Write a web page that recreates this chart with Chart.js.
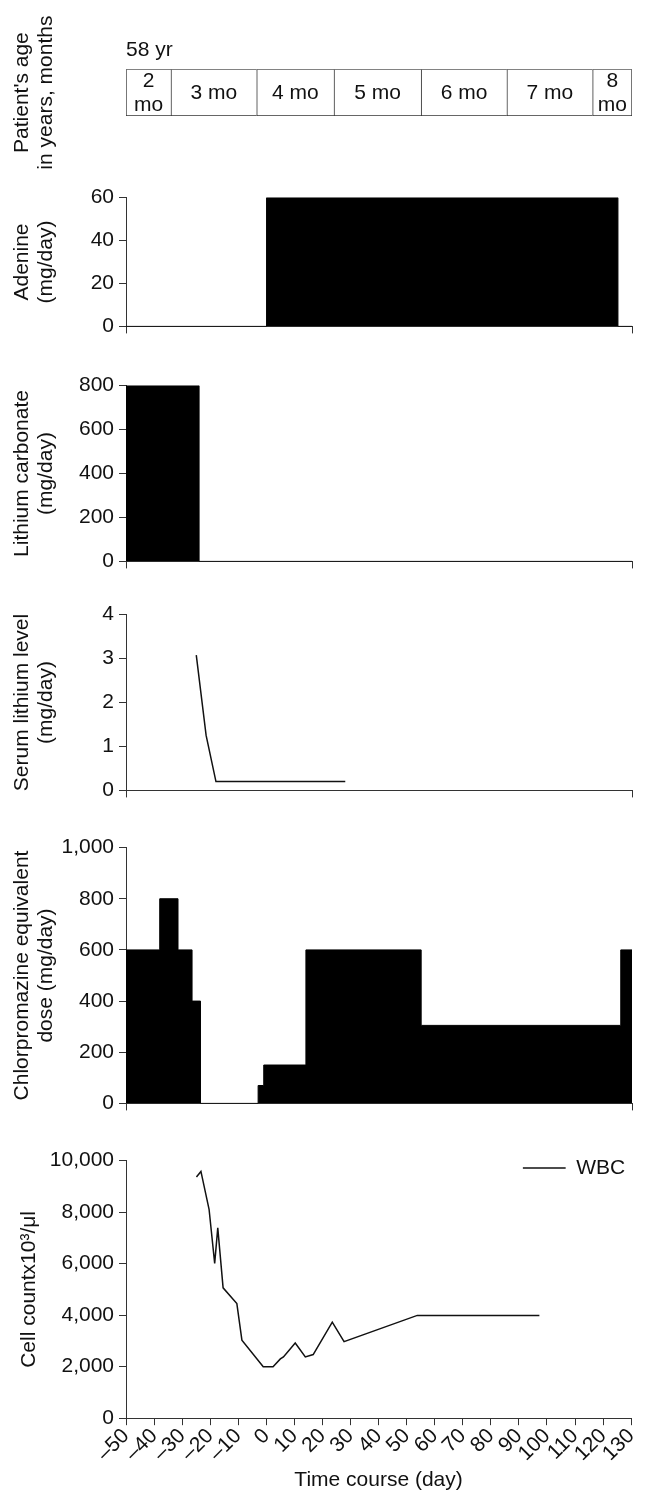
<!DOCTYPE html>
<html>
<head>
<meta charset="utf-8">
<title>Time course</title>
<script src="https://cdn.jsdelivr.net/npm/chart.js@4.4.0/dist/chart.umd.min.js"></script>
<style>
  body { margin: 0; background: #fff; }
  #page { position: relative; width: 646px; height: 1506px; overflow: hidden; }
  canvas { position: absolute; left: 0; }
</style>
</head>
<body>
<div id="page">
  <canvas id="ageChart"></canvas>
  <canvas id="adenineChart"></canvas>
  <canvas id="lithiumChart"></canvas>
  <canvas id="serumChart"></canvas>
  <canvas id="cpzChart"></canvas>
  <canvas id="wbcChart"></canvas>
</div>
<script>
// patient's age, month cells along the day axis
const ageLabels = ["2\nmo", "3 mo", "4 mo", "5 mo", "6 mo", "7 mo", "8\nmo"];
const ageStart = [-50, -34, -3.5, 24, 55, 85.5, 116];
const ageEnd = [-34, -3.5, 24, 55, 85.5, 116, 130];

// doses, held from each day until the next one
const adenineDays = [-50, 0, 125, 130];
const adenineDose = [0, 60, 0, 0];

const lithiumDays = [-50, -24, 130];
const lithiumDose = [800, 0, 0];

const serumDays = [-25, -21.5, -18, 28];
const serumLevel = [3.08, 1.25, 0.2, 0.2];

const cpzDays = [-50, -38, -31.5, -26.5, -23.5, -3, -1, 14, 55, 126, 130];
const cpzDose = [600, 800, 600, 400, 0, 70, 150, 600, 305, 600, 600];

const wbcDays = [-24.9, -23.3, -20.4, -18.4, -17.3, -15.4, -10.5, -8.7, -1.1, 2.4, 5, 6.1, 10.3, 13.9, 16.7, 23.5, 27.7, 53.8, 97.3];
const wbcCount = [9360, 9580, 8110, 6010, 7390, 5060, 4450, 3030, 2000, 2000, 2300, 2380, 2920, 2380, 2470, 3730, 2970, 3990, 3990];

const dayTicks = [-50, -40, -30, -20, -10, 0, 10, 20, 30, 40, 50, 60, 70, 80, 90, 100, 110, 120, 130];

Chart.defaults.font.family = '"Liberation Sans", Arial, Helvetica, sans-serif';
Chart.defaults.font.size = 21;
Chart.defaults.color = '#111';
Chart.defaults.animation = false;
Chart.defaults.responsive = false;
Chart.defaults.devicePixelRatio = 1;
Chart.defaults.plugins.legend.display = false;
Chart.defaults.plugins.tooltip.enabled = false;

const AXIS = '#333';
const LEFT = 126;

function place(id, top, height) {
  const c = document.getElementById(id);
  c.width = 646;
  c.height = height;
  c.style.top = top + 'px';
  return c.getContext('2d');
}

function points(xs, ys) {
  return xs.map((x, i) => ({ x: x, y: ys[i] }));
}

function yAxis(max, step, title, titlePad) {
  return {
    min: 0,
    max: max,
    ticks: { stepSize: step, padding: 5, callback: v => v.toLocaleString('en-US') },
    grid: { drawOnChartArea: false, tickLength: 7, color: AXIS },
    border: { color: AXIS },
    title: { display: true, text: title, font: { size: 21, lineHeight: 1.15 }, padding: { top: titlePad, bottom: 0 } },
    afterFit: s => { s.width = LEFT; }
  };
}

// upper panels: day axis with only its two end ticks
function endTickX() {
  return {
    type: 'linear',
    min: -50,
    max: 130,
    ticks: { display: false },
    grid: { drawOnChartArea: false, tickLength: 7, color: AXIS },
    border: { color: AXIS },
    afterBuildTicks: s => { s.ticks = [{ value: -50 }, { value: 130 }]; }
  };
}

function doseChart(id, top, height, days, dose, yMax, yStep, title) {
  return new Chart(place(id, top, height), {
    type: 'line',
    data: {
      datasets: [{
        data: points(days, dose),
        stepped: true,
        fill: 'origin',
        backgroundColor: '#000',
        borderColor: '#000',
        borderWidth: 1,
        pointRadius: 0
      }]
    },
    options: {
      layout: { padding: { left: 0, right: 14, top: 14, bottom: 8 } },
      scales: { x: endTickX(), y: yAxis(yMax, yStep, title, 10) }
    }
  });
}

// text inside each month cell
const cellText = {
  id: 'cellText',
  afterDatasetsDraw(chart) {
    const ctx = chart.ctx;
    ctx.save();
    ctx.font = '21px "Liberation Sans", Arial, sans-serif';
    ctx.fillStyle = '#111';
    ctx.textAlign = 'center';
    ctx.textBaseline = 'middle';
    chart.getDatasetMeta(0).data.forEach((bar, i) => {
      const lines = ageLabels[i].split('\n');
      const cx = (bar.x + bar.base) / 2;
      lines.forEach((t, j) => {
        ctx.fillText(t, cx, bar.y + 1 + (j - (lines.length - 1) / 2) * 24);
      });
    });
    ctx.restore();
  }
};

// keep the legend in the top right corner of the plot
const legendTopRight = {
  id: 'legendTopRight',
  afterLayout(chart) {
    const lg = chart.legend;
    if (!lg || !lg.legendHitBoxes || !lg.legendHitBoxes.length) return;
    const w = lg.legendHitBoxes[0].width;
    lg.right = chart.chartArea.right;
    lg.left = lg.right - 6 - w;
    lg.width = lg.right - lg.left;
    lg.top = chart.chartArea.top - 3;
    lg.bottom = lg.top + 40;
    lg.height = 40;
  }
};

new Chart(place('ageChart', 0, 180), {
  type: 'bar',
  data: {
    labels: ['58 yr'],
    datasets: [{
      data: ageStart.map((s, i) => ({ x: [s, ageEnd[i]], y: '58 yr' })),
      backgroundColor: '#fff',
      borderColor: AXIS,
      borderWidth: c => ({ top: 1, bottom: 1, left: 1, right: c.dataIndex === ageEnd.length - 1 ? 1 : 0 }),
      borderSkipped: false,
      barPercentage: 1,
      categoryPercentage: 1
    }]
  },
  options: {
    indexAxis: 'y',
    layout: { padding: { left: 0, right: 14, top: 38, bottom: 64 } },
    plugins: {
      title: { display: true, text: '58 yr', align: 'start', fullSize: false, color: '#111', font: { size: 21, weight: 'normal' }, padding: { top: 0, bottom: 6 } }
    },
    scales: {
      x: { type: 'linear', min: -50, max: 130, display: false },
      y: {
        type: 'category',
        ticks: { display: false },
        grid: { display: false },
        border: { display: false },
        title: { display: true, text: ["Patient's age", 'in years, months'], font: { size: 21, lineHeight: 1.15 }, padding: { top: 10, bottom: 0 } },
        afterFit: s => { s.width = LEFT; }
      }
    }
  },
  plugins: [cellText]
});

doseChart('adenineChart', 180, 164, adenineDays, adenineDose, 60, 20, ['Adenine', '(mg/day)']);
doseChart('lithiumChart', 368, 211, lithiumDays, lithiumDose, 800, 200, ['Lithium carbonate', '(mg/day)']);

new Chart(place('serumChart', 597, 211), {
  type: 'line',
  data: {
    datasets: [{
      data: points(serumDays, serumLevel),
      borderColor: '#111',
      borderWidth: 1.5,
      pointRadius: 0,
      tension: 0,
      fill: false
    }]
  },
  options: {
    layout: { padding: { left: 0, right: 14, top: 14, bottom: 8 } },
    scales: { x: endTickX(), y: yAxis(4, 1, ['Serum lithium level', '(mg/day)'], 10) }
  }
});

doseChart('cpzChart', 830, 291, cpzDays, cpzDose, 1000, 200, ['Chlorpromazine equivalent', 'dose (mg/day)']);

new Chart(place('wbcChart', 1143, 363), {
  type: 'line',
  data: {
    datasets: [{
      label: 'WBC',
      data: points(wbcDays, wbcCount),
      borderColor: '#111',
      backgroundColor: '#111',
      borderWidth: 1.5,
      pointRadius: 0,
      tension: 0,
      fill: false
    }]
  },
  options: {
    layout: { padding: { left: 0, right: 14, top: 14, bottom: 9 } },
    plugins: {
      legend: {
        display: true,
        position: 'chartArea',
        align: 'start',
        labels: { usePointStyle: true, pointStyle: 'line', pointStyleWidth: 43, padding: 0, color: '#111', font: { size: 21 } }
      }
    },
    scales: {
      x: {
        type: 'linear',
        min: -50,
        max: 130,
        afterBuildTicks: s => { s.ticks = dayTicks.map(v => ({ value: v })); },
        ticks: {
          autoSkip: false,
          minRotation: 45,
          maxRotation: 45,
          padding: 0,
          font: { size: 21, lineHeight: 1 },
          callback: v => (v < 0 ? '\u2013' + Math.abs(v) : String(v))
        },
        grid: { drawOnChartArea: false, tickLength: 7, color: AXIS },
        border: { color: AXIS },
        title: { display: true, text: 'Time course (day)', font: { size: 21 }, padding: { top: 3, bottom: 4 } }
      },
      y: yAxis(10000, 2000, 'Cell countx10\u00b3/\u03bcl', 17)
    }
  },
  plugins: [legendTopRight]
});
</script>
</body>
</html>
